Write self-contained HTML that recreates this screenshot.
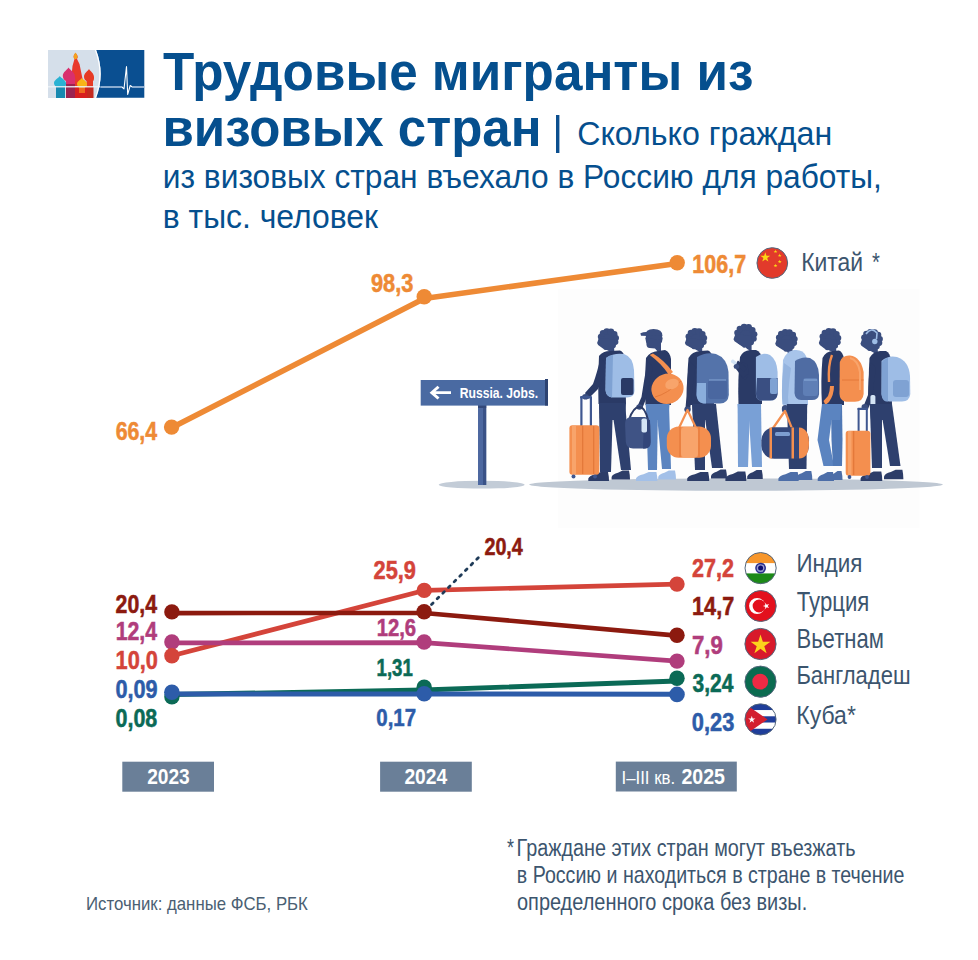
<!DOCTYPE html>
<html lang="ru"><head><meta charset="utf-8"><title>Трудовые мигранты из визовых стран</title>
<style>
html,body{margin:0;padding:0;background:#ffffff;}
body{width:978px;height:960px;overflow:hidden;}
svg{display:block;}
text{font-family:"Liberation Sans",Arial,sans-serif;}
</style></head><body>
<svg width="978" height="960" viewBox="0 0 978 960">
<rect x="0" y="0" width="978" height="960" fill="#ffffff"/>
<rect x="558" y="289" width="361.5" height="238.7" fill="#fdfdfd"/>

<g id="logo">
 <rect x="48" y="50" width="52" height="48" fill="#d5dfea"/>
 <!-- domes -->
 <path d="M75.5,53 C73.5,55 73,57 74.5,59 L72.5,66 L70.5,86 L84,86 L79.5,64 L77,59 C78.5,57 77.5,55 75.5,53 Z" fill="#e8392b"/>
 <path d="M75.5,52.5 C74,54.5 73,56 74,58.5 C75,59.5 76,59.5 77,58.5 C78,56 77,54.5 75.5,52.5Z" fill="#f4a21c"/>
 <path d="M68.5,67.5 C67,70 63,72 62.8,75.5 C62.8,79 65,80.5 66,81 L66,98 L75,98 L75,81 C76,80.5 74.8,78 74.8,75.5 C74.5,72 70,70 68.5,67.5Z" fill="#d92f6e"/>
 <rect x="66" y="84" width="9" height="14" fill="#9c2350"/>
 <path d="M59.8,76 C58,78.5 54,80 54,83 C54,85 55,86 56,86.5 L56,98 L65,98 L65,86.5 C66,86 66,85 66,83 C65.8,80 61.5,78.5 59.8,76Z" fill="#2ab2d3"/>
 <rect x="56" y="87" width="9" height="11" fill="#1789b0"/>
 <path d="M89,69 C87.5,71.5 84,73 84,77 C84,79.5 85.5,80.5 86.5,81 L86.5,98 L93,98 L93,81 C94,80.5 94,79 94,77 C93.8,73 90.5,71.5 89,69Z" fill="#e63a24"/>
 <rect x="86.5" y="87" width="7" height="11" fill="#c42a20"/>
 <rect x="75" y="87" width="12" height="11" fill="#d81f1f"/>
 <path d="M79,87 L85,87 L85,93 L79,93 Z" fill="#ef6a1f"/>
 <path d="M81.8,78 C80.5,80 77,81.5 77,84 C77,86 78.5,87 79,87.5 L85,87.5 C85.5,87 87,86 87,84 C87,81.5 83.5,80 81.8,78Z" fill="#f8b417"/>
 <!-- blue panel -->
 <path d="M96.1,50 Q105.3,74 96.1,97.8 L144.3,97.8 L144.3,50 Z" fill="#0a4f91"/>
 <path d="M95.5,50 Q104.5,74 95.5,97.8" fill="none" stroke="#ffffff" stroke-width="1.2"/>
 <line x1="48" y1="86.8" x2="100" y2="86.8" stroke="#eef3f8" stroke-width="1.6" opacity="0.85"/>
 <polyline points="100.5,87 121.9,87 124,88.9 126.5,66.5 127.7,94.4 130.2,85.5 132.3,87 144.3,87" fill="none" stroke="#ffffff" stroke-width="1.1" stroke-linejoin="round"/>
 <line x1="100.5" y1="87" x2="121.9" y2="87" stroke="#8daed3" stroke-width="1.6"/>
 <line x1="132.3" y1="87" x2="144.3" y2="87" stroke="#8daed3" stroke-width="1.6"/>
</g>

<rect x="556" y="115" width="3.4" height="38" fill="#0b4f8f"/>

<g id="sign">
 <ellipse cx="481.7" cy="484.7" rx="43" ry="3.9" fill="#c3ccd7"/>
 <rect x="478" y="405" width="8.2" height="80" fill="#4d68a0"/>
 <rect x="483" y="405" width="3.2" height="80" fill="#3a5287"/>
 <rect x="478" y="405" width="8.2" height="3" fill="#33487a"/>
 <rect x="420.7" y="380" width="127.3" height="25.6" fill="#4a6aa2"/>
 <rect x="545" y="379" width="3" height="26.6" fill="#2d4372"/>
 <path d="M429.6,392.7 L437.5,385.8 L439.5,387.8 L435.5,391.3 L451,391.3 L451,394.1 L435.5,394.1 L439.5,397.6 L437.5,399.6 Z" fill="#ffffff"/>
</g>


<g id="people">
 <ellipse cx="736" cy="484.6" rx="207" ry="6.2" fill="#bfc8d3"/>

 <!-- ===== Person 1 ===== -->
 <circle cx="608.2" cy="339.4" r="9.5" fill="#3a4d7e"/><circle cx="600.8" cy="336.7" r="3.0" fill="#3a4d7e"/><circle cx="603.1" cy="333.3" r="3.3" fill="#3a4d7e"/><circle cx="606.8" cy="331.6" r="3.3" fill="#3a4d7e"/><circle cx="610.9" cy="332.0" r="3.4" fill="#3a4d7e"/><circle cx="614.3" cy="334.3" r="3.2" fill="#3a4d7e"/><circle cx="616.0" cy="338.0" r="3.0" fill="#3a4d7e"/><circle cx="615.6" cy="342.1" r="2.8" fill="#3a4d7e"/><circle cx="613.3" cy="345.5" r="2.6" fill="#3a4d7e"/><path d="M598.9,337.9 L597.1,342.9 L598.1,344.9 L603.3,348.7 Q604.3,350.5 606.8,349.9 L609.7,351.4 L614.2,353.9 L614.2,339.4 Z" fill="#3a4d7e"/>
 <path d="M599,356 Q603,351 610,351 L620,350.5 Q624,352 625,358 L626,404 L598.5,404 Q597.5,380 599,356 Z" fill="#2a3a66"/>
 <path d="M600.5,358 Q597,373 593,384 L585,393 L588,399 L598,389 Q604,377 607,364 Z" fill="#2a3a66"/>
 <ellipse cx="585.5" cy="396.8" rx="3.3" ry="2.8" fill="#3a4d7e"/>
 <path d="M606,358 Q614,352.5 624,354 Q633,357 634,370 L634.5,391 Q634,397.5 627,397.5 L612,397.5 Q606,397 605.5,390 Z" fill="#9ebde6"/>
 <path d="M606,358 Q609,355 613,355 L612,397.5 Q606,397 605.5,390 Z" fill="#7fa2d3"/>
 <rect x="621" y="378" width="12.5" height="17" rx="2" fill="#2a3a66"/>
 <path d="M599,403 L613,403 L611,472 L600,472 Z" fill="#2e406e"/>
 <path d="M611,403 L625,403 L631,470 L621,470 Z" fill="#2e406e"/>
 <path d="M599,403 L626,403 L625,420 L600,420 Z" fill="#2e406e"/>
 <path d="M588.3,481 L588.3,478.5 Q589.3,475.6 595.5,474.2 L600.7,472 L608.0,472 Q609,476.5 609,481 Z" fill="#2d3d68"/>
 <path d="M611.6,479.5 L611.6,477.0 Q612.6,474.1 618.0,472.8 L622.6,470.5 L629.0,470.5 Q630,475.0 630,479.5 Z" fill="#2d3d68"/>
 <rect x="580.3" y="397" width="2.2" height="29" fill="#3f5790"/>
 <rect x="589.8" y="397" width="2.2" height="29" fill="#3f5790"/>
 <rect x="580" y="396" width="12" height="2.4" rx="1" fill="#3f5790"/>
 <rect x="569.4" y="425.2" width="29.9" height="49.5" rx="3" fill="#f48f4f"/>
 <rect x="572" y="426" width="4" height="48" fill="#f8a46b"/>
 <rect x="582" y="426" width="1.3" height="48" fill="#e4793a"/>
 <rect x="593" y="426" width="1.3" height="48" fill="#e4793a"/>
 <circle cx="573.5" cy="476.5" r="2" fill="#3f5790"/><circle cx="595" cy="476.5" r="2" fill="#3f5790"/>

 <!-- ===== Person 2 (cap) ===== -->
 <circle cx="654" cy="338.5" r="8.6" fill="#3a4d7e"/>
 <path d="M645.5,335.5 Q645,329 653.5,329 Q662.5,329 662.5,336 Z" fill="#3a4d7e"/>
 <path d="M640.4,333.2 Q644,331.5 648,332 L648,336 L641,335.8 Z" fill="#3a4d7e"/>
 <path d="M646,338 L646.5,345 Q647,348 649.5,348 L655,348.5 L658,352 L661,352 L661,340 Z" fill="#3a4d7e"/>
 <path d="M646,358 Q650,351.5 658,351 L665,350 Q670,352 671,359 L671,405 L645.5,405 Q644.5,380 646,358 Z" fill="#2a3a66"/>
 <path d="M647.5,361 Q644,380 641.5,397 L638,405 L642,409 L646,399 Q650,381 653,367 Z" fill="#2a3a66"/>
 <ellipse cx="639.5" cy="407" rx="3.2" ry="2.8" fill="#3a4d7e"/>
 <path d="M649.7,355 L653,353.5 Q664,360 673,372 L669,375 Q661,363 649.7,355 Z" fill="#f48f4f"/>
 <ellipse cx="667.5" cy="388.8" rx="16.2" ry="15" transform="rotate(-20 667.5 388.8)" fill="#f48f4f"/>
 <path d="M655,397 Q667,394 681,381" stroke="#e4793a" stroke-width="1" fill="none"/>
 <ellipse cx="672" cy="384" rx="7" ry="5" transform="rotate(-20 672 384)" fill="#f8a46b"/>
 <path d="M646,404 L658,404 L657,470 L648,470 Z" fill="#5b84c0"/>
 <path d="M656,404 L669,404 L671,469 L662,469 Z" fill="#5b84c0"/>
 <path d="M645.5,404 L669.5,404 L668,420 L647,420 Z" fill="#5b84c0"/>
 <path d="M636,481 L636,478.5 Q637,475.6 643.5,474.2 L648.8,472 L656.4,472 Q657.4,476.5 657.4,481 Z" fill="#a3c0e8"/>
 <path d="M658.2,479.5 L658.2,477.0 Q659.2,474.1 664.4,472.8 L668.9,470.5 L675.0,470.5 Q676,475.0 676,479.5 Z" fill="#a3c0e8"/>
 <path d="M629,420 Q633,407 639.5,407 Q645,407 648,420" stroke="#2d3d68" stroke-width="2" fill="none"/>
 <path d="M627,419 Q625.1,419 625.1,425 L625.8,442 Q626.5,448.5 633,448.5 L645,448.5 Q650.6,448 650.6,442 L650.2,425 Q650,418 645,417 L632,417 Q627,417.5 627,419 Z" fill="#3f5385"/>
 <path d="M644,419 L650,420 L650.6,442 Q650.6,448 645,448.5 L643,448.5 Z" fill="#33467a"/>
 <rect x="641.5" y="418.5" width="5.5" height="14" rx="1.8" fill="#d4e4f5"/>

 <!-- ===== Person 3 ===== -->
 <circle cx="696.2" cy="339.4" r="9.8" fill="#3a4d7e"/><circle cx="688.5" cy="336.6" r="3.0" fill="#3a4d7e"/><circle cx="691.0" cy="333.1" r="3.3" fill="#3a4d7e"/><circle cx="694.8" cy="331.3" r="3.3" fill="#3a4d7e"/><circle cx="699.0" cy="331.7" r="3.4" fill="#3a4d7e"/><circle cx="702.4" cy="334.1" r="3.2" fill="#3a4d7e"/><circle cx="704.2" cy="337.9" r="3.0" fill="#3a4d7e"/><circle cx="703.9" cy="342.1" r="2.8" fill="#3a4d7e"/><circle cx="701.4" cy="345.6" r="2.6" fill="#3a4d7e"/><path d="M686.7,337.9 L684.9,342.9 L685.9,344.9 L691.6,348.0 Q692.6,349.8 695.1,349.2 L697.7,350.7 L702.2,353.2 L702.2,339.4 Z" fill="#3a4d7e"/>
 <path d="M688.5,358 Q692,351.5 700,351 L708,350.5 Q712,352 713,359 L714,405 L688,405 Q686.5,380 688.5,358 Z" fill="#2a3a66"/>
 <path d="M689.5,361 Q686.5,380 686.5,396 L685.5,408 L690,410.5 L691.5,398 Q693,381 695.5,367 Z" fill="#2a3a66"/>
 <ellipse cx="687.5" cy="409.4" rx="3.2" ry="3" fill="#3a4d7e"/>
 <path d="M697,357 Q706,351.5 716,354 Q727,358 728.5,372 L728.8,395 Q728,403.5 720,403.5 L704,403.5 Q697,402.5 696.5,395 Z" fill="#5473aa"/>
 <path d="M697,383 L706,383 L706,403.5 L703,403.5 Q697,402.5 696.5,395 Z" fill="#8aaedc"/>
 <rect x="708" y="380" width="19" height="19" rx="3" fill="#4a67a0"/>
 <path d="M709,380 L726,380" stroke="#86a8d6" stroke-width="1"/>
 <path d="M692.3,404 L705,404 L705,470 L695,470 Z" fill="#2e406e"/>
 <path d="M703,404 L716,404 L723,468 L712,468 Z" fill="#2e406e"/>
 <path d="M692,404 L716,404 L714,420 L693,420 Z" fill="#2e406e"/>
 <path d="M687.2,481 L687.2,478.5 Q688.2,475.6 694.9,474.2 L700.4,472 L708.2,472 Q709.2,476.5 709.2,481 Z" fill="#2d3d68"/>
 <path d="M711,478.5 L711,476.0 Q712,473.1 716.6,471.8 L720.6,469.5 L726.0,469.5 Q727,474.0 727,478.5 Z" fill="#2d3d68"/>
 <path d="M678,430 L687.5,410 L697,430" stroke="#f48f4f" stroke-width="2.2" fill="none" stroke-linejoin="round"/>
 <rect x="666.8" y="426.4" width="44.2" height="31.4" rx="12" fill="#f48f4f"/>
 <rect x="681" y="427" width="17" height="30.5" rx="4" fill="#f8a46b"/>
 <path d="M680,427 L680,457 M699,427 L699,457" stroke="#e4793a" stroke-width="1.2"/>

 <!-- ===== Person 4 (phone) ===== -->
 <circle cx="745.6" cy="335.8" r="10.5" fill="#3a4d7e"/><circle cx="737.2" cy="332.8" r="3.0" fill="#3a4d7e"/><circle cx="739.9" cy="329.0" r="3.3" fill="#3a4d7e"/><circle cx="744.1" cy="327.0" r="3.3" fill="#3a4d7e"/><circle cx="748.6" cy="327.4" r="3.4" fill="#3a4d7e"/><circle cx="752.4" cy="330.1" r="3.2" fill="#3a4d7e"/><circle cx="754.4" cy="334.3" r="3.0" fill="#3a4d7e"/><circle cx="754.0" cy="338.8" r="2.8" fill="#3a4d7e"/><circle cx="751.3" cy="342.6" r="2.6" fill="#3a4d7e"/><path d="M735.3,334.3 L733.5,339.3 L734.5,341.3 L742.2,346.4 Q743.2,348.2 745.7,347.6 L747.1,349.1 L751.6,351.6 L751.6,335.8 Z" fill="#3a4d7e"/>
 <path d="M740,357 Q743,350.5 750,350 L756,350 Q761,352 762,359 L762,404 L738.5,404 Q737.5,380 740,357 Z" fill="#2a3a66"/>
 <path d="M742,362 Q740,372 742,378 L746,380 L749,372 L747,364 Z" fill="#2a3a66"/>
 <path d="M743,378 L736,369 L739,365 L748,374 Z" fill="#2a3a66"/>
 <path d="M744,372 Q738,366 735.5,364 L738,360.5 Q742,364 747,368 Z" fill="#2a3a66"/>
 <rect x="731" y="360.5" width="6" height="3.4" rx="1" transform="rotate(35 734 362)" fill="#d4e4f5"/>
 <ellipse cx="736.5" cy="366.5" rx="2.8" ry="2.5" fill="#3a4d7e"/>
 <path d="M755.9,357 Q763,351.5 770,355 Q777,360 777.6,372 L777.6,394 Q777,400.6 770,400.6 L761,400.6 Q756,400 755.9,394 Z" fill="#9ebde6"/>
 <path d="M757,378 L777.6,378 L777.6,394 Q777,400.6 770,400.6 L761,400.6 Q756,400 756,394 Z" fill="#3a4f82"/>
 <rect x="770" y="378" width="7.6" height="16" rx="2" fill="#7fa2d3"/>
 <path d="M737.6,404 L750,404 L748,467 L738,467 Z" fill="#79a0d6"/>
 <path d="M748,404 L761,404 L762,467 L752,467 Z" fill="#79a0d6"/>
 <path d="M737.6,404 L761,404 L760,420 L739,420 Z" fill="#79a0d6"/>
 <path d="M725.4,481 L725.4,478.5 Q726.4,475.3 732.7,473.9 L737.9,471.5 L745.3,471.5 Q746.3,476.2 746.3,481 Z" fill="#2d3d68"/>
 <path d="M747.2,479 L747.2,476.5 Q748.2,473.6 752.7,472.2 L756.6,470 L761.8,470 Q762.8,474.5 762.8,479 Z" fill="#2d3d68"/>

 <!-- ===== Person 5 (light hoodie) ===== -->
 <circle cx="786.6" cy="340.3" r="9.8" fill="#3a4d7e"/><circle cx="778.9" cy="337.5" r="3.0" fill="#3a4d7e"/><circle cx="781.3" cy="334.0" r="3.3" fill="#3a4d7e"/><circle cx="785.2" cy="332.2" r="3.3" fill="#3a4d7e"/><circle cx="789.4" cy="332.6" r="3.4" fill="#3a4d7e"/><circle cx="792.9" cy="335.0" r="3.2" fill="#3a4d7e"/><circle cx="794.7" cy="338.9" r="3.0" fill="#3a4d7e"/><circle cx="794.3" cy="343.1" r="2.8" fill="#3a4d7e"/><circle cx="791.9" cy="346.6" r="2.6" fill="#3a4d7e"/><path d="M777.0,338.8 L775.2,343.8 L776.2,345.8 L783.7,350.5 Q784.7,352.3 787.2,351.7 L788.1,353.2 L792.6,355.7 L792.6,340.3 Z" fill="#3a4d7e"/>
 <path d="M783,360 Q786,351.5 794,350 Q803,349 806,356 L808,362 L808,405 L782.6,405 Q781.5,382 783,360 Z" fill="#a8c4ea"/>
 <path d="M784,363 Q781.5,382 782,398 L782.5,404 L788.5,404 L788,397 Q789,381 791,368 Z" fill="#95b4df"/>
 <ellipse cx="785.2" cy="409" rx="3.4" ry="4" fill="#3a4d7e"/>
 <path d="M795,361 Q802,356 810,358 Q818.5,362 819,375 L819.1,394 Q818.5,400.1 812,400.1 L801,400.1 Q795,399.5 794.5,393 Z" fill="#4f6ca3"/>
 <rect x="803" y="378" width="15" height="18" rx="3" fill="#5f7fb6"/>
 <path d="M804,380 L817,380" stroke="#8eb0dc" stroke-width="1"/>
 <path d="M786.9,404 L797.5,404 L797,469 L789,469 Z" fill="#2e406e"/>
 <path d="M796,404 L807.2,404 L806.5,469 L797,469 Z" fill="#2e406e"/>
 <path d="M786.9,404 L807.2,404 L806,420 L788,420 Z" fill="#2e406e"/>
 <path d="M778.4,481 L778.4,478.5 Q779.4,475.6 785.5,474.2 L790.6,472 L797.7,472 Q798.7,476.5 798.7,481 Z" fill="#4d6ea8"/>
 <path d="M796,480 L796,477.5 Q797,474.6 801.7,473.2 L805.8,471 L811.3,471 Q812.3,475.5 812.3,480 Z" fill="#4d6ea8"/>
 <path d="M771,431 L785,411 L793,431" stroke="#f48f4f" stroke-width="2.2" fill="none" stroke-linejoin="round"/>
 <rect x="761.4" y="427.3" width="47.6" height="31.4" rx="13" fill="#33477a"/>
 <path d="M799,427.5 Q809,428 809,443 Q809,458.5 799,458.5 Z" fill="#f48f4f"/>
 <rect x="769.5" y="427.5" width="2.5" height="31" fill="#f48f4f"/>
 <rect x="791.5" y="427.5" width="2.5" height="31" fill="#f48f4f"/>
 <rect x="775" y="432" width="15" height="4" rx="1.5" fill="#7d9ed0"/>

 <!-- ===== Person 6 (orange backpack) ===== -->
 <circle cx="830.2" cy="339.4" r="9.8" fill="#3a4d7e"/><circle cx="822.5" cy="336.6" r="3.0" fill="#3a4d7e"/><circle cx="824.9" cy="333.1" r="3.3" fill="#3a4d7e"/><circle cx="828.8" cy="331.3" r="3.3" fill="#3a4d7e"/><circle cx="833.0" cy="331.7" r="3.4" fill="#3a4d7e"/><circle cx="836.5" cy="334.1" r="3.2" fill="#3a4d7e"/><circle cx="838.3" cy="338.0" r="3.0" fill="#3a4d7e"/><circle cx="837.9" cy="342.2" r="2.8" fill="#3a4d7e"/><circle cx="835.5" cy="345.7" r="2.6" fill="#3a4d7e"/><path d="M820.6,337.9 L818.8,342.9 L819.8,344.9 L824.7,348.8 Q825.7,350.6 828.2,350.0 L831.7,351.5 L836.2,354.0 L836.2,339.4 Z" fill="#3a4d7e"/>
 <path d="M822.5,358 Q826,351 833,351 L839,350.5 Q843,352 844,359 L844,405 L822,405 Q820.5,380 822.5,358 Z" fill="#2a3a66"/>
 <path d="M832,355 Q828,365 829,382" stroke="#f48f4f" stroke-width="2.4" fill="none"/>
 <path d="M839.8,362 Q842,355 850,355.5 Q861,357 863.6,372 L863.6,394 Q863,401.8 855,401.8 L846,401.8 Q839.8,401 839.5,394 Z" fill="#f48f4f"/>
 <path d="M842,380 L863.6,380" stroke="#e4793a" stroke-width="1"/>
 <path d="M850,358 Q858,360 860,372 L860,390" stroke="#f8a46b" stroke-width="2" fill="none"/>
 <path d="M834,386 Q834,395 829,402 L825.5,405 L823.5,401 L828,396 Q830,391 830,386 Z" fill="#f48f4f"/>
 <path d="M822,404 L833.5,404 L829,440 L834,466 L823.5,466 L817.5,440 Z" fill="#5b84c0"/>
 <path d="M831,404 L842,404 L842.5,440 L842,466 L833,466 L831.5,440 Z" fill="#5079b6"/>
 <path d="M822,404 L841.5,404 L840,420 L823,420 Z" fill="#5b84c0"/>
 <path d="M817.7,481 L817.7,478.5 Q818.7,475.6 823.4,474.2 L827.5,472 L833.0,472 Q834,476.5 834,481 Z" fill="#4d6ea8"/>
 <path d="M830,480 L830,477.5 Q831,474.6 834.4,473.2 L837.5,471 L841.5,471 Q842.5,475.5 842.5,480 Z" fill="#4d6ea8"/>

 <!-- ===== Person 7 (headphones) ===== -->
 <circle cx="871.8" cy="340.3" r="9.8" fill="#3a4d7e"/><circle cx="864.1" cy="337.5" r="3.0" fill="#3a4d7e"/><circle cx="866.5" cy="334.0" r="3.3" fill="#3a4d7e"/><circle cx="870.4" cy="332.2" r="3.3" fill="#3a4d7e"/><circle cx="874.6" cy="332.6" r="3.4" fill="#3a4d7e"/><circle cx="878.1" cy="335.0" r="3.2" fill="#3a4d7e"/><circle cx="879.9" cy="338.9" r="3.0" fill="#3a4d7e"/><circle cx="879.5" cy="343.1" r="2.8" fill="#3a4d7e"/><circle cx="877.1" cy="346.6" r="2.6" fill="#3a4d7e"/><path d="M862.2,338.8 L860.4,343.8 L861.4,345.8 L867.2,349.7 Q868.2,351.5 870.7,350.9 L873.3,352.4 L877.8,354.9 L877.8,340.3 Z" fill="#3a4d7e"/>
 <path d="M866,334 Q871.5,326.5 877,333 L876.5,339" stroke="#9ebde6" stroke-width="1.6" fill="none"/>
 <circle cx="874.8" cy="341.5" r="2.7" fill="#9ebde6"/>
 <path d="M869.5,358 Q873,351.5 880,351 L886,351 Q890,353 891,360 L892,405 L869.5,405 Q868,380 869.5,358 Z" fill="#2a3a66"/>
 <path d="M870.5,362 Q868,380 868,395 L864,405 L868,409 L872,399 Q874,381 876,368 Z" fill="#2a3a66"/>
 <ellipse cx="864.8" cy="407" rx="3.3" ry="2.9" fill="#3a4d7e"/>
 <rect x="870.4" y="395" width="5" height="12" rx="1.8" fill="#d4e4f5"/>
 <path d="M881.5,361 Q888,355 897,357 Q909,361 910,376 L910.3,394 Q909.5,401.4 902,401.4 L889,401.4 Q882,401 881.5,394 Z" fill="#9ebde6"/>
 <path d="M882,362 Q885,358 888,358 L888,401.4 L886,401.4 Q882,401 881.5,394 Z" fill="#7fa2d3"/>
 <rect x="893" y="380" width="16" height="17" rx="3" fill="#7fa2d3"/>
 <path d="M869.8,404 L882,404 L882,468 L872,468 Z" fill="#2e406e"/>
 <path d="M880,404 L892,404 L900.5,466 L890,466 Z" fill="#2e406e"/>
 <path d="M869.8,404 L892,404 L891,420 L871,420 Z" fill="#2e406e"/>
 <path d="M860.6,481 L860.6,478.5 Q861.6,475.3 868.2,473.9 L873.6,471.5 L881.3,471.5 Q882.3,476.2 882.3,481 Z" fill="#2d3d68"/>
 <path d="M884,479.2 L884,476.7 Q885,473.5 890.8,472.1 L895.6,469.7 L902.4,469.7 Q903.4,474.4 903.4,479.2 Z" fill="#2d3d68"/>
 <rect x="857.6" y="408.6" width="2" height="22.5" fill="#3f5790"/>
 <rect x="865.8" y="408.6" width="2" height="22.5" fill="#3f5790"/>
 <rect x="857.3" y="407.8" width="10.8" height="2.2" rx="1" fill="#3f5790"/>
 <rect x="845.7" y="430.7" width="24.7" height="45" rx="3" fill="#f48f4f"/>
 <rect x="853" y="431" width="1.3" height="44" fill="#e4793a"/>
 <rect x="848" y="431" width="3.5" height="44" fill="#f8a46b"/>
 <circle cx="849.5" cy="477" r="1.9" fill="#3f5790"/><circle cx="867" cy="477" r="1.9" fill="#3f5790"/>
</g>

<polyline points="171.6,427.8 424.2,298.4 677.2,263.4" fill="none" stroke="#ee8a35" stroke-width="5.6" stroke-linejoin="round"/><circle cx="171.6" cy="427.1" r="7.7" fill="#ee8a35"/><circle cx="424.2" cy="296.7" r="7.7" fill="#ee8a35"/><circle cx="677.2" cy="262.7" r="7.7" fill="#ee8a35"/><polyline points="171.9,655.8 424.2,590.4 677.0,584.1" fill="none" stroke="#d4443a" stroke-width="4.7" stroke-linejoin="round"/><polyline points="171.9,613.1 424.1,613.0 677.0,635.6" fill="none" stroke="#8c1a0f" stroke-width="4.6" stroke-linejoin="round"/><polyline points="171.9,642.9 424.1,642.6 677.0,661.1" fill="none" stroke="#b03d7c" stroke-width="4.7" stroke-linejoin="round"/><polyline points="171.9,694.5 424.2,690.0 677.0,681.0" fill="none" stroke="#0b6a56" stroke-width="4.8" stroke-linejoin="round"/><polyline points="171.9,694.0 424.2,694.0 677.0,694.2" fill="none" stroke="#2d5ca9" stroke-width="5.0" stroke-linejoin="round"/><circle cx="171.9" cy="642.0" r="7.7" fill="#b03d7c"/><circle cx="424.1" cy="642.0" r="7.7" fill="#b03d7c"/><circle cx="677.0" cy="661.1" r="7.7" fill="#b03d7c"/><circle cx="171.9" cy="611.9" r="7.7" fill="#8c1a0f"/><circle cx="424.1" cy="611.8" r="7.7" fill="#8c1a0f"/><circle cx="677.0" cy="635.2" r="7.7" fill="#8c1a0f"/><circle cx="171.9" cy="655.8" r="7.7" fill="#d4443a"/><circle cx="424.2" cy="590.4" r="7.7" fill="#d4443a"/><circle cx="677.0" cy="584.1" r="7.7" fill="#d4443a"/><circle cx="171.9" cy="696.7" r="7.7" fill="#0b6a56"/><circle cx="424.2" cy="687.3" r="7.7" fill="#0b6a56"/><circle cx="677.0" cy="678.3" r="7.7" fill="#0b6a56"/><circle cx="171.9" cy="692.2" r="7.8" fill="#2d5ca9"/><circle cx="424.2" cy="693.7" r="7.8" fill="#2d5ca9"/><circle cx="677.0" cy="694.4" r="7.8" fill="#2d5ca9"/><line x1="431.5" y1="604.5" x2="481" y2="555" stroke="#1f3b58" stroke-width="2.8" stroke-dasharray="2.2 5.8" stroke-linecap="round"/>
<circle cx="772.3" cy="263.0" r="15.35" fill="#e23a2b"/>
<polygon points="765.30,252.20 766.47,255.79 770.25,255.79 767.19,258.01 768.36,261.61 765.30,259.39 762.24,261.61 763.41,258.01 760.35,255.79 764.13,255.79" fill="#fbd714"/>
<polygon points="775.50,249.50 775.95,250.88 777.40,250.88 776.23,251.74 776.68,253.12 775.50,252.26 774.32,253.12 774.77,251.74 773.60,250.88 775.05,250.88" fill="#fbd714"/>
<polygon points="779.70,253.50 780.15,254.88 781.60,254.88 780.43,255.74 780.88,257.12 779.70,256.26 778.52,257.12 778.97,255.74 777.80,254.88 779.25,254.88" fill="#fbd714"/>
<polygon points="779.70,259.70 780.15,261.08 781.60,261.08 780.43,261.94 780.88,263.32 779.70,262.46 778.52,263.32 778.97,261.94 777.80,261.08 779.25,261.08" fill="#fbd714"/>
<polygon points="775.50,263.70 775.95,265.08 777.40,265.08 776.23,265.94 776.68,267.32 775.50,266.46 774.32,267.32 774.77,265.94 773.60,265.08 775.05,265.08" fill="#fbd714"/>
<circle cx="772.3" cy="263.0" r="15.35" fill="none" stroke="#53667c" stroke-width="1.0"/>
<clipPath id="ci"><circle cx="760.6" cy="568.1" r="15.6"/></clipPath>
<g clip-path="url(#ci)"><rect x="745.0" y="552.5" width="31.2" height="31.2" fill="#ffffff"/><rect x="745.0" y="552.5" width="31.2" height="10.608" fill="#f7962b"/><rect x="745.0" y="573.404" width="31.2" height="15.6" fill="#1c8a17"/></g>
<circle cx="760.6" cy="568.1" r="5.4" fill="#2a2f8c"/>
<circle cx="760.6" cy="568.1" r="3.9" fill="#9a9bd0"/>
<circle cx="760.6" cy="568.1" r="2.5" fill="#0b0b6e"/>
<circle cx="760.6" cy="568.1" r="15.6" fill="none" stroke="#53667c" stroke-width="1.0"/>
<circle cx="760.7" cy="606" r="15.5" fill="#e3101d"/>
<circle cx="757.1" cy="606" r="8.0" fill="#ffffff"/>
<circle cx="759.1" cy="606" r="6.5" fill="#e3101d"/>
<polygon points="762.80,606.00 765.22,605.21 765.22,602.67 766.71,604.73 769.13,603.94 767.64,606.00 769.13,608.06 766.71,607.27 765.22,609.33 765.22,606.79" fill="#ffffff"/>
<circle cx="760.7" cy="606" r="15.5" fill="none" stroke="#53667c" stroke-width="1.0"/>
<circle cx="760.5" cy="644" r="15.6" fill="#d8192b"/>
<polygon points="760.50,634.50 762.84,641.69 770.39,641.69 764.28,646.13 766.61,653.31 760.50,648.87 754.39,653.31 756.72,646.13 750.61,641.69 758.16,641.69" fill="#fcd21c"/>
<circle cx="760.5" cy="644" r="15.6" fill="none" stroke="#53667c" stroke-width="1.0"/>
<circle cx="760.5" cy="681.7" r="15.6" fill="#0b6b50"/>
<circle cx="760.2" cy="681.7" r="7.9" fill="#ee2a44"/>
<circle cx="760.5" cy="681.7" r="15.6" fill="none" stroke="#53667c" stroke-width="1.0"/>
<clipPath id="cc"><circle cx="760.5" cy="719.4" r="15.6"/></clipPath>
<g clip-path="url(#cc)"><rect x="744.9" y="703.8" width="31.2" height="31.2" fill="#ffffff"/><rect x="744.9" y="703.80" width="31.2" height="6.24" fill="#1f3e9a"/><rect x="744.9" y="716.28" width="31.2" height="6.24" fill="#1f3e9a"/><rect x="744.9" y="728.76" width="31.2" height="6.24" fill="#1f3e9a"/><polygon points="744.90,703.80 767.52,719.40 744.90,735.00" fill="#d31f2f"/><polygon points="751.80,715.80 752.65,718.43 755.41,718.43 753.18,720.05 754.03,722.67 751.80,721.05 749.57,722.67 750.42,720.05 748.19,718.43 750.95,718.43" fill="#ffffff"/></g>
<circle cx="760.5" cy="719.4" r="15.6" fill="none" stroke="#53667c" stroke-width="1.0"/>

<rect x="122.3" y="761.7" width="91.7" height="30" fill="#6a7f98"/>
<rect x="380.1" y="761.7" width="91.7" height="30" fill="#6a7f98"/>
<rect x="615.8" y="761.6" width="121" height="29.9" fill="#6a7f98"/>

<text x="162.89" y="89.80" font-size="53.20" font-weight="700" fill="#054f8e" textLength="590.53" lengthAdjust="spacingAndGlyphs">Трудовые мигранты из</text>
<text x="162.43" y="145.50" font-size="53.20" font-weight="700" fill="#054f8e" textLength="379.05" lengthAdjust="spacingAndGlyphs">визовых стран</text>
<text x="577.19" y="145.20" font-size="32.30" font-weight="400" fill="#054f8e" textLength="255.07" lengthAdjust="spacingAndGlyphs">Сколько граждан</text>
<text x="162.78" y="188.40" font-size="32.30" font-weight="400" fill="#054f8e" textLength="719.14" lengthAdjust="spacingAndGlyphs">из визовых стран въехало в Россию для работы,</text>
<text x="162.77" y="227.80" font-size="32.30" font-weight="400" fill="#054f8e" textLength="215.23" lengthAdjust="spacingAndGlyphs">в тыс. человек</text>
<text x="115.65" y="440.20" font-size="26.29" font-weight="700" fill="#ee8a35" textLength="41.49" lengthAdjust="spacingAndGlyphs" stroke="#ee8a35" stroke-width="0.55">66,4</text>
<text x="370.93" y="291.70" font-size="25.57" font-weight="700" fill="#ee8a35" textLength="42.36" lengthAdjust="spacingAndGlyphs" stroke="#ee8a35" stroke-width="0.55">98,3</text>
<text x="692.31" y="272.80" font-size="25.71" font-weight="700" fill="#ee8a35" textLength="53.80" lengthAdjust="spacingAndGlyphs" stroke="#ee8a35" stroke-width="0.55">106,7</text>
<text x="115.61" y="612.80" font-size="25.43" font-weight="700" fill="#8c1a0f" textLength="41.42" lengthAdjust="spacingAndGlyphs" stroke="#8c1a0f" stroke-width="0.55">20,4</text>
<text x="115.73" y="640.30" font-size="25.00" font-weight="700" fill="#b03d7c" textLength="41.31" lengthAdjust="spacingAndGlyphs" stroke="#b03d7c" stroke-width="0.55">12,4</text>
<text x="115.60" y="668.90" font-size="25.57" font-weight="700" fill="#d4443a" textLength="42.31" lengthAdjust="spacingAndGlyphs" stroke="#d4443a" stroke-width="0.55">10,0</text>
<text x="115.53" y="697.90" font-size="25.57" font-weight="700" fill="#2d5ca9" textLength="42.15" lengthAdjust="spacingAndGlyphs" stroke="#2d5ca9" stroke-width="0.55">0,09</text>
<text x="115.54" y="726.60" font-size="25.29" font-weight="700" fill="#0b6a56" textLength="41.72" lengthAdjust="spacingAndGlyphs" stroke="#0b6a56" stroke-width="0.55">0,08</text>
<text x="373.55" y="578.90" font-size="25.43" font-weight="700" fill="#d4443a" textLength="42.34" lengthAdjust="spacingAndGlyphs" stroke="#d4443a" stroke-width="0.55">25,9</text>
<text x="484.41" y="554.70" font-size="23.43" font-weight="700" fill="#8c1a0f" textLength="38.42" lengthAdjust="spacingAndGlyphs" stroke="#8c1a0f" stroke-width="0.55">20,4</text>
<text x="376.68" y="635.90" font-size="24.14" font-weight="700" fill="#b03d7c" textLength="39.45" lengthAdjust="spacingAndGlyphs" stroke="#b03d7c" stroke-width="0.55">12,6</text>
<text x="376.58" y="676.20" font-size="23.29" font-weight="700" fill="#0b6a56" textLength="36.21" lengthAdjust="spacingAndGlyphs" stroke="#0b6a56" stroke-width="0.55">1,31</text>
<text x="376.28" y="725.90" font-size="24.14" font-weight="700" fill="#2d5ca9" textLength="39.77" lengthAdjust="spacingAndGlyphs" stroke="#2d5ca9" stroke-width="0.55">0,17</text>
<text x="692.05" y="577.00" font-size="25.71" font-weight="700" fill="#d4443a" textLength="41.93" lengthAdjust="spacingAndGlyphs" stroke="#d4443a" stroke-width="0.55">27,2</text>
<text x="692.10" y="615.20" font-size="25.51" font-weight="700" fill="#8c1a0f" textLength="42.10" lengthAdjust="spacingAndGlyphs" stroke="#8c1a0f" stroke-width="0.55">14,7</text>
<text x="692.01" y="653.50" font-size="25.29" font-weight="700" fill="#b03d7c" textLength="30.88" lengthAdjust="spacingAndGlyphs" stroke="#b03d7c" stroke-width="0.55">7,9</text>
<text x="692.48" y="692.00" font-size="26.00" font-weight="700" fill="#0b6a56" textLength="40.85" lengthAdjust="spacingAndGlyphs" stroke="#0b6a56" stroke-width="0.55">3,24</text>
<text x="691.83" y="730.50" font-size="26.00" font-weight="700" fill="#2d5ca9" textLength="42.47" lengthAdjust="spacingAndGlyphs" stroke="#2d5ca9" stroke-width="0.55">0,23</text>
<text x="801.17" y="271.20" font-size="26.70" font-weight="400" fill="#3c556e" textLength="61.90" lengthAdjust="spacingAndGlyphs">Китай</text>
<text x="871.99" y="271.20" font-size="26.70" font-weight="400" fill="#3c556e" textLength="7.90" lengthAdjust="spacingAndGlyphs">*</text>
<text x="796.41" y="572.00" font-size="26.67" font-weight="400" fill="#3c556e" textLength="66.06" lengthAdjust="spacingAndGlyphs">Индия</text>
<text x="796.76" y="611.10" font-size="27.83" font-weight="400" fill="#3c556e" textLength="72.55" lengthAdjust="spacingAndGlyphs">Турция</text>
<text x="796.44" y="648.30" font-size="26.96" font-weight="400" fill="#3c556e" textLength="87.39" lengthAdjust="spacingAndGlyphs">Вьетнам</text>
<text x="796.44" y="683.80" font-size="26.52" font-weight="400" fill="#3c556e" textLength="114.08" lengthAdjust="spacingAndGlyphs">Бангладеш</text>
<text x="796.36" y="724.00" font-size="26.52" font-weight="400" fill="#3c556e" textLength="59.47" lengthAdjust="spacingAndGlyphs">Куба*</text>
<text x="147.23" y="784.10" font-size="21.57" font-weight="700" fill="#ffffff" textLength="42.54" lengthAdjust="spacingAndGlyphs">2023</text>
<text x="404.42" y="784.10" font-size="21.57" font-weight="700" fill="#ffffff" textLength="42.77" lengthAdjust="spacingAndGlyphs">2024</text>
<text x="621.49" y="784.00" font-size="19.28" font-weight="400" fill="#ffffff" textLength="53.66" lengthAdjust="spacingAndGlyphs">I–III кв.</text>
<text x="681.41" y="784.10" font-size="21.29" font-weight="700" fill="#ffffff" textLength="43.57" lengthAdjust="spacingAndGlyphs">2025</text>
<text x="459.75" y="398.00" font-size="14.79" font-weight="700" fill="#ffffff" textLength="78.36" lengthAdjust="spacingAndGlyphs">Russia. Jobs.</text>
<text x="507.04" y="855.50" font-size="23.62" font-weight="400" fill="#3c556e" textLength="7.01" lengthAdjust="spacingAndGlyphs">*</text>
<text x="516.62" y="855.50" font-size="23.62" font-weight="400" fill="#3c556e" textLength="338.93" lengthAdjust="spacingAndGlyphs">Граждане этих стран могут въезжать</text>
<text x="516.83" y="882.80" font-size="23.19" font-weight="400" fill="#3c556e" textLength="387.59" lengthAdjust="spacingAndGlyphs">в Россию и находиться в стране в течение</text>
<text x="517.00" y="910.40" font-size="23.62" font-weight="400" fill="#3c556e" textLength="290.18" lengthAdjust="spacingAndGlyphs">определенного срока без визы.</text>
<text x="86.06" y="909.50" font-size="18.14" font-weight="400" fill="#4b5f73" textLength="221.84" lengthAdjust="spacingAndGlyphs">Источник: данные ФСБ, РБК</text>
</svg>
</body></html>
